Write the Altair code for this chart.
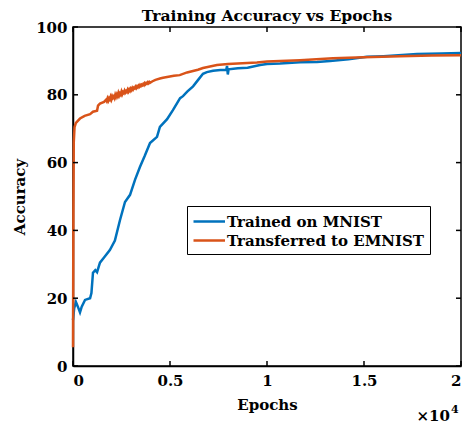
import altair as alt
import pandas as pd

# Training curves: accuracy (%) against training epoch
mnist_epochs = [0, 60, 150, 250, 360, 450, 620, 880, 950, 1030, 1150, 1240, 1390, 1600,
                1900, 2160, 2420, 2680, 2940, 3200, 3450, 3700, 3970, 4330, 4480, 4850,
                5150, 5520, 5670, 5900, 6190, 6450, 6700, 6900, 7220, 7600, 7900, 7940,
                7980, 8020, 8500, 9000, 9640, 10000, 10670, 11700, 12580, 13250, 14200,
                15150, 16000, 17730, 19000, 20000]
mnist_acc = [13.5, 17.0, 18.9, 17.5, 15.8, 17.5, 19.5, 20.0, 21.5, 27.5, 28.3, 27.7, 30.5,
             32.0, 34.2, 37.0, 43.0, 48.4, 50.5, 55.0, 58.7, 62.0, 65.8, 67.6, 70.5, 72.8,
             75.5, 79.0, 79.6, 81.0, 82.5, 84.4, 86.2, 86.7, 87.1, 87.3, 87.4, 88.5, 86.0,
             87.5, 87.8, 88.0, 88.8, 89.1, 89.2, 89.6, 89.7, 90.0, 90.5, 91.2, 91.4, 92.0,
             92.2, 92.3]

emnist_epochs = [0, 20, 40, 80, 150, 360, 600, 880, 1030, 1240, 1290, 1390, 1600,
                 1700, 1740, 1780, 1820, 1860, 1900, 1940, 1980, 2020, 2060, 2100, 2140,
                 2180, 2220, 2260, 2300, 2340, 2380, 2420, 2460, 2500, 2540, 2580, 2620,
                 2660, 2700, 2740, 2780, 2820, 2860, 2900, 2940, 2980, 3020, 3060, 3100,
                 3140, 3180, 3220, 3260, 3300, 3340, 3380, 3420, 3460, 3500, 3540, 3580,
                 3620, 3660, 3700, 3740, 3780, 3820, 3860, 3900, 3940, 3980, 4100, 4250,
                 4480, 4640, 5200, 5500, 5880, 6440, 6700, 7420, 7990, 9480, 10000, 11700,
                 13400, 15000, 16860, 18500, 20000]
emnist_acc = [5.5, 45.0, 66.0, 70.5, 71.7, 73.0, 73.8, 74.3, 75.0, 75.3, 76.8, 77.4, 77.9,
              78.5, 78.1, 78.9, 78.3, 79.0, 78.6, 79.4, 78.7, 79.6, 79.1, 79.5, 79.0,
              80.0, 79.4, 80.1, 79.6, 80.5, 79.8, 80.4, 80.0, 80.9, 80.2, 80.8, 80.5,
              81.2, 80.7, 81.1, 80.8, 81.5, 81.0, 81.6, 81.2, 81.8, 81.4, 82.0, 81.6,
              82.1, 81.9, 82.4, 82.0, 82.5, 82.2, 82.7, 82.4, 82.9, 82.6, 83.0, 82.8,
              83.2, 82.9, 83.4, 83.1, 83.5, 83.3, 83.7, 83.4, 83.8, 83.6, 84.0, 84.4,
              84.8, 85.0, 85.6, 85.8, 86.6, 87.4, 87.9, 88.8, 89.1, 89.5, 89.8, 90.2,
              90.8, 91.1, 91.4, 91.6, 91.7]

series_names = ["Trained on MNIST", "Transferred to EMNIST"]
series_colors = ["#0072BD", "#D95319"]

x_ticks = [0, 5000, 10000, 15000, 20000]
y_ticks = [0, 20, 40, 60, 80, 100]

W, H = 388, 339
FONT = "DejaVu Serif"
TICK = 5

curves = pd.concat([
    pd.DataFrame({"epoch": mnist_epochs, "acc": mnist_acc, "series": series_names[0]}),
    pd.DataFrame({"epoch": emnist_epochs, "acc": emnist_acc, "series": series_names[1]}),
])

x_scale = alt.Scale(domain=[0, 20000], nice=False, zero=False)
y_scale = alt.Scale(domain=[0, 100], nice=False)

lines = alt.Chart(curves).mark_line(strokeWidth=2.5).encode(
    x=alt.X("epoch:Q", scale=x_scale,
            axis=alt.Axis(title="Epochs", values=x_ticks, labelExpr="datum.value / 10000",
                          tickSize=0, labelPadding=7, titlePadding=9, grid=False)),
    y=alt.Y("acc:Q", scale=y_scale,
            axis=alt.Axis(title="Accuracy", values=y_ticks, tickSize=0, labelPadding=6,
                          titlePadding=8, grid=False)),
    color=alt.Color("series:N",
                    scale=alt.Scale(domain=series_names, range=series_colors),
                    legend=alt.Legend(title=None, orient="none", legendX=114, legendY=179,
                                      strokeColor="black", fillColor="white", padding=5,
                                      symbolType="M-1,0H2.5", symbolSize=324,
                                      symbolStrokeWidth=2.5, rowPadding=0,
                                      labelOffset=14, labelFont=FONT, labelFontSize=15,
                                      labelFontWeight="bold", labelColor="black",
                                      labelLimit=400)),
)

# Inward tick marks on all four sides of the frame
xt = pd.DataFrame({"epoch": x_ticks})
yt = pd.DataFrame({"acc": y_ticks})
tick_style = dict(color="black", strokeWidth=1.5)
bottom_ticks = alt.Chart(xt).mark_rule(**tick_style).encode(
    x=alt.X("epoch:Q", scale=x_scale), y=alt.value(H), y2=alt.value(H - TICK))
top_ticks = alt.Chart(xt).mark_rule(**tick_style).encode(
    x=alt.X("epoch:Q", scale=x_scale), y=alt.value(0), y2=alt.value(TICK))
left_ticks = alt.Chart(yt).mark_rule(**tick_style).encode(
    y=alt.Y("acc:Q", scale=y_scale), x=alt.value(0), x2=alt.value(TICK))
right_ticks = alt.Chart(yt).mark_rule(**tick_style).encode(
    y=alt.Y("acc:Q", scale=y_scale), x=alt.value(W), x2=alt.value(W - TICK))

# Exponent note for the x axis
mult = alt.Chart(pd.DataFrame({"t": ["×10"]})).mark_text(
    font=FONT, fontSize=15, fontWeight="bold", align="right", baseline="alphabetic",
    color="black").encode(x=alt.value(377), y=alt.value(H + 55), text="t:N")
expo = alt.Chart(pd.DataFrame({"t": ["4"]})).mark_text(
    font=FONT, fontSize=11, fontWeight="bold", align="left", baseline="alphabetic",
    color="black").encode(x=alt.value(378), y=alt.value(H + 47), text="t:N")

chart = alt.layer(lines, bottom_ticks, top_ticks, left_ticks, right_ticks, mult, expo).properties(
    width=W, height=H,
    title=alt.TitleParams("Training Accuracy vs Epochs", font=FONT, fontSize=15.6,
                          fontWeight="bold", color="black", anchor="middle", offset=-5),
    autosize=alt.AutoSizeParams(type="none"),
    padding={"left": 73, "top": 27, "right": 1, "bottom": 60},
).configure(
    background="white"
).configure_view(
    stroke="black", strokeWidth=1.5
).configure_axis(
    domainColor="black", domainWidth=1.5, labelFont=FONT, labelFontSize=15,
    labelFontWeight="bold", labelColor="black", titleFont=FONT, titleFontSize=15,
    titleFontWeight="bold", titleColor="black"
)

chart.save("out.html", embed_options={"renderer": "svg", "actions": False})
